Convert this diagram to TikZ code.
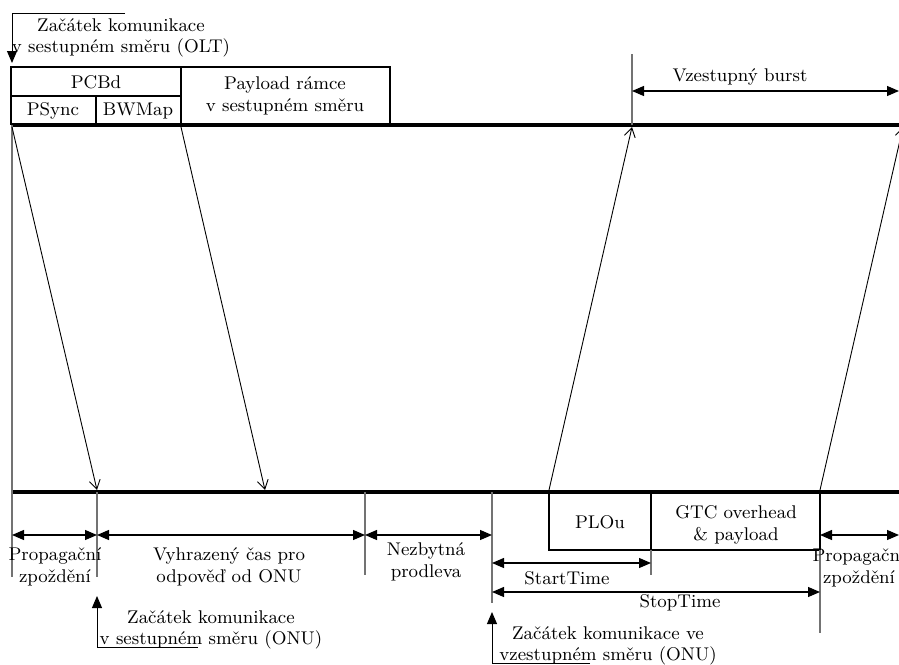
\documentclass[tikz,border=0pt]{standalone}
\usetikzlibrary{arrows.meta}
\begin{document}
\begin{tikzpicture}[x=0.5pt,y=-0.5pt,
  every node/.style={font=\fontsize{9.2}{10.8}\selectfont, inner sep=0pt, align=center},
  rail/.style={line width=2pt},
  frame/.style={draw, line width=0.55pt},
  tick/.style={draw=black!55, line width=0.75pt},
  signal/.style={line width=0.45pt, -{Straight Barb[length=4.5pt,width=5.5pt]}},
  span/.style={line width=0.6pt, {Triangle[length=6pt,width=5pt]}-{Triangle[length=6pt,width=5pt]}},
  marker/.style={line width=0.5pt, -{Triangle[length=6pt,width=5pt]}},
]
\useasboundingbox (0,0) rectangle (899,664);

% time instants on the OLT rail (top) and the ONU rail (bottom)
\coordinate (olt0) at (12,125);
\coordinate (olt1) at (181,125);
\coordinate (olt2) at (632,125);
\coordinate (olt3) at (903,125);
\coordinate (onu0) at (12,492);
\coordinate (onu1) at (97,492);
\coordinate (onu2) at (265,492);
\coordinate (onu3) at (365,492);
\coordinate (onu4) at (492,492);
\coordinate (onu5) at (549,492);
\coordinate (onu6) at (651,492);
\coordinate (onu7) at (820,492);

% downstream frame
\draw[frame] (11,67) rectangle (181,96);
\draw[frame] (11,96) rectangle (96,124) (96,96) rectangle (181,124);
\draw[frame] (181,67) rectangle (390,124);
\node (pcbd) at (96,82) {PCBd};
\node (psync) at (53,111) {PSync};
\node (bwmap) at (138,111) {BWMap};
\node (payload) at (285,96) {Payload rámce\\v sestupném směru};

% upstream burst
\draw[frame] (onu5) rectangle (651,550);
\draw[frame] (onu6) rectangle (820,550);
\node (plou) at (600,522) {PLOu};
\node (gtc) at (736,525) {GTC overhead\\\& payload};

% rails
\draw[rail] (11,125) -- (905,125);
\draw[rail] (11,492) -- (905,492);

% vertical time marks
\draw[tick] (olt0) -- (12,577);
\draw[tick] (onu1) -- (97,577);
\draw[tick] (onu3) -- (365,575);
\draw[tick] (onu4) -- (492,603);
\draw[tick] (651,550) -- (651,575);
\draw[tick] (820,550) -- (820,633);
\draw[tick] (632,54) -- (olt2);

% propagation of the frames
\draw[signal] ([yshift=-1pt]olt0) -- ([yshift=1pt]onu1);
\draw[signal] ([yshift=-1pt]olt1) -- ([yshift=1pt]onu2);
\draw[signal] ([yshift=1pt]onu5) -- ([yshift=-1pt]olt2);
\draw[signal] ([yshift=1pt]onu7) -- ([yshift=-1pt]olt3);

% intervals
\coordinate (burstL) at (632,91);
\coordinate (burstR) at (899,91);
\draw[span] (burstL) -- (burstR);
\node (burst) at (740,77) {Vzestupný burst};

\draw[span] (12,535) coordinate (p1) -- (97,535) coordinate (p2);
\draw[span] (p2) -- (365,535) coordinate (p3);
\draw[span] (p3) -- (492,535) coordinate (p4);
\draw[span] (820,535) coordinate (p5) -- (899,535) coordinate (p6);
\draw[span] (492,563) coordinate (s1) -- (651,563) coordinate (s2);
\draw[span] (492,592) coordinate (t1) -- (820,592) coordinate (t2);

\node (prop1) at (55,567) {Propagační\\zpoždění};
\node (resp) at (229,567) {Vyhrazený čas pro\\odpověď od ONU};
\node (gap) at (426,562) {Nezbytná\\prodleva};
\node (prop2) at (859,568) {Propagační\\zpoždění};
\node (start) at (567,578) {StartTime};
\node (stop) at (680,603) {StopTime};

% start markers
\coordinate (m1a) at (125,13);
\coordinate (m1b) at (12,13);
\coordinate (m1c) at (12,63);
\draw[marker] (m1a) -- (m1b) -- (m1c);
\node (oltstart) at (121,38) {Začátek komunikace\\v sestupném směru (OLT)};

\coordinate (m2a) at (198,647);
\coordinate (m2b) at (97,647);
\coordinate (m2c) at (97,596);
\draw[marker] (m2a) -- (m2b) -- (m2c);
\node (onudown) at (211,630) {Začátek komunikace\\v sestupném směru (ONU)};

\coordinate (m3a) at (590,663);
\coordinate (m3b) at (492,663);
\coordinate (m3c) at (492,612);
\draw[marker] (m3a) -- (m3b) -- (m3c);
\node (onuup) at (608,646) {Začátek komunikace ve\\vzestupném směru (ONU)};
\end{tikzpicture}
\end{document}
